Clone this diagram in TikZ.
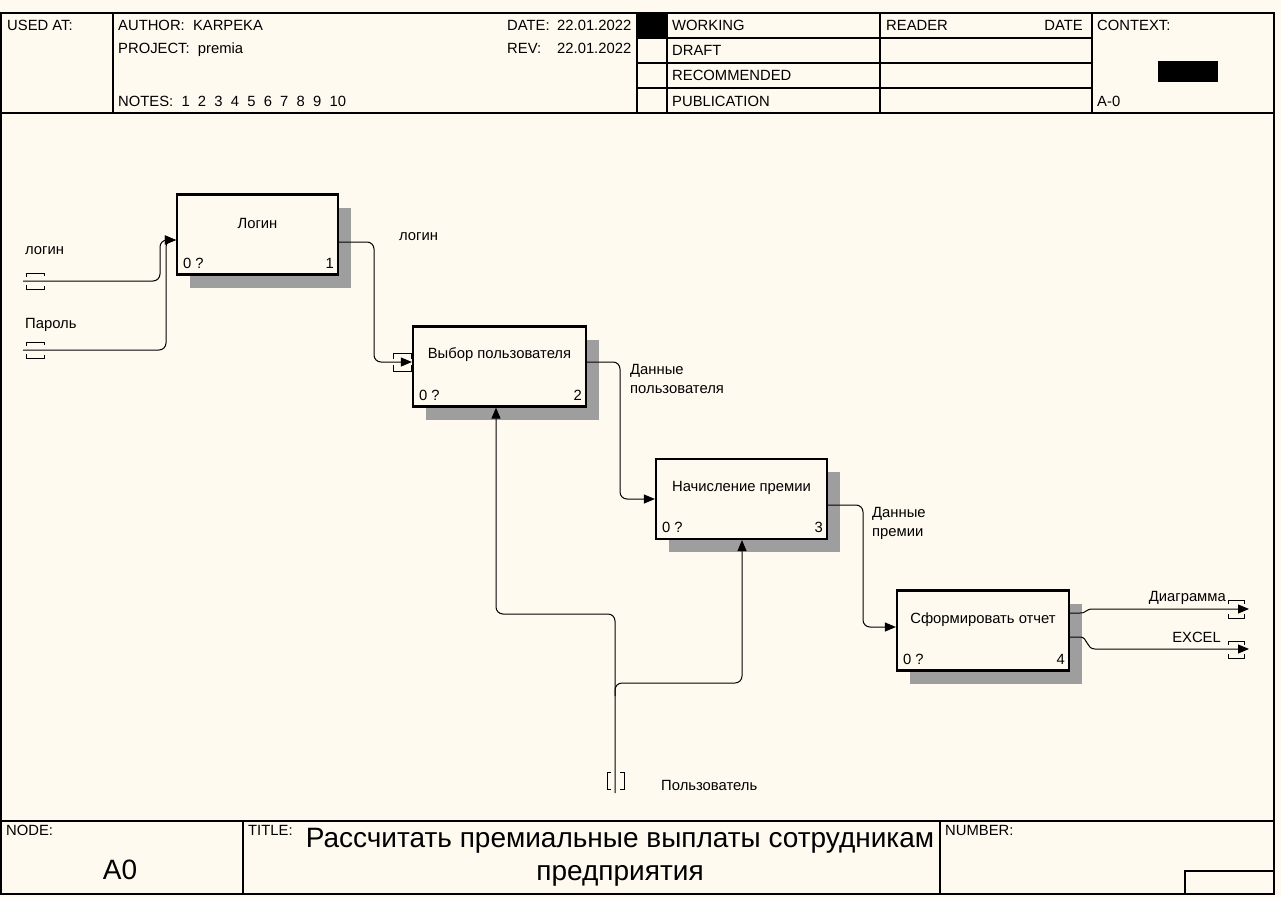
\documentclass[tikz,border=0pt]{standalone}
\usepackage{fontspec}
\setmainfont{Liberation Sans}
\usetikzlibrary{arrows.meta,shadows}
\definecolor{paper}{RGB}{255,250,240}

\begin{document}
\begin{tikzpicture}[x=1pt,y=-1pt,
  every node/.style={font=\fontsize{14.8}{19}\selectfont,inner sep=0pt},
  box/.style={draw,line width=2.2pt,fill=paper,minimum height=80pt,
    drop shadow={shadow xshift=13pt,shadow yshift=-13pt,fill=black!38,opacity=1}},
  flow/.style={line width=1pt,rounded corners=7pt,-{Triangle[length=11pt,width=9pt]}},
  tun/.style={line width=1pt},
  frame/.style={line width=1.4pt},
  hd/.style={anchor=base west}]
\useasboundingbox (0,0) rectangle (1281,897);
\fill[paper] (0,0) rectangle (1281,897);

% frame, header and footer
\draw[frame] (1,13) rectangle (1274,894);
\draw[frame] (1,113) -- (1274,113);
\draw[frame] (113,13) -- (113,113);
\draw[frame] (637,13) -- (637,113);
\draw[frame] (667,13) -- (667,113);
\draw[frame] (880,13) -- (880,113);
\draw[frame] (1092,13) -- (1092,113);
\draw[frame] (637,38) -- (1092,38);
\draw[frame] (637,63) -- (1092,63);
\draw[frame] (637,88) -- (1092,88);
\fill (637,13) rectangle (667,38);
\fill (1158,61) rectangle (1218,82);
\draw[frame] (1,821) -- (1274,821);
\draw[frame] (243,821) -- (243,894);
\draw[frame] (940,821) -- (940,894);
\draw[frame] (1185,894) -- (1185,871) -- (1274,871);

\node[hd] at (7,30) {USED AT:};
\node[hd] at (118,30) {AUTHOR:\ \ KARPEKA};
\node[hd] at (118,53) {PROJECT:\ \ premia};
\node[hd] at (118,106) {NOTES:\ \ 1\ \ 2\ \ 3\ \ 4\ \ 5\ \ 6\ \ 7\ \ 8\ \ 9\ \ 10};
\node[hd] at (507,30) {DATE:};
\node[hd] at (557,30) {22.01.2022};
\node[hd] at (507,53) {REV:};
\node[hd] at (557,53) {22.01.2022};
\node[hd] at (672,30) {WORKING};
\node[hd] at (672,55) {DRAFT};
\node[hd] at (672,80) {RECOMMENDED};
\node[hd] at (672,106) {PUBLICATION};
\node[hd] at (886,30) {READER};
\node[anchor=base east] at (1083,30) {DATE};
\node[hd] at (1097,30) {CONTEXT:};
\node[hd] at (1097,106) {A-0};

\node[hd] at (6,835) {NODE:};
\node[anchor=base,font=\fontsize{28}{33}\selectfont] at (120,879) {A0};
\node[hd] at (248,835) {TITLE:};
\node[anchor=base,font=\fontsize{28}{33}\selectfont] at (620,847)
  {Рассчитать премиальные выплаты сотрудникам};
\node[anchor=base,font=\fontsize{28}{33}\selectfont] at (620,880) {предприятия};
\node[hd] at (945,835) {NUMBER:};

% activity boxes
\node[box,minimum width=161pt] (b1) at (257.5,234.5) {};
\node[box,minimum width=173pt] (b2) at (499.5,366.5) {};
\node[box,minimum width=171pt] (b3) at (741.5,499) {};
\node[box,minimum width=172pt] (b4) at (983,630.5) {};

\node at ([yshift=11.5pt]b1.center) {Логин};
\node at ([yshift=11.5pt]b2.center) {Выбор пользователя};
\node at ([yshift=11.5pt]b3.center) {Начисление премии};
\node at ([yshift=11pt]b4.center) {Сформировать отчет};

\node[anchor=south west] at ([xshift=7pt,yshift=7pt]b1.south west) {0 ?};
\node[anchor=south east] at ([xshift=-5pt,yshift=7pt]b1.south east) {1};
\node[anchor=south west] at ([xshift=7pt,yshift=7pt]b2.south west) {0 ?};
\node[anchor=south east] at ([xshift=-5pt,yshift=7pt]b2.south east) {2};
\node[anchor=south west] at ([xshift=7pt,yshift=7pt]b3.south west) {0 ?};
\node[anchor=south east] at ([xshift=-5pt,yshift=7pt]b3.south east) {3};
\node[anchor=south west] at ([xshift=7pt,yshift=7pt]b4.south west) {0 ?};
\node[anchor=south east] at ([xshift=-5pt,yshift=7pt]b4.south east) {4};

% free ends
\coordinate (in1) at (23,281);
\coordinate (in2) at (23,350);
\coordinate (out1) at (1249,609);
\coordinate (out2) at (1249,649);
\coordinate (mech) at (615,793);
\coordinate (fork) at (615,696);

% arrows
\draw[flow] (in1) -- (160,281) -- (160,240) -- (b1.west |- 0,240);
\draw[flow] (in2) -- (166,350) -- (166,240) -- (b1.west |- 0,240);
\draw[flow] (b1.east |- 0,242) -- (374,242) -- (374,362) -- (b2.west |- 0,362);
\draw[flow] (b2.east |- 0,362) -- (620,362) -- (620,499) -- (b3.west);
\draw[flow] (b3.east |- 0,505) -- (863,505) -- (863,627) -- (b4.west |- 0,627);
\draw[flow,rounded corners=0pt] (b4.east |- 0,613) -- (1080,613)
  .. controls (1087,613) and (1085,609) .. (1093,609) -- (out1);
\draw[flow,rounded corners=0pt] (b4.east |- 0,637) -- (1080,637)
  .. controls (1088,637) and (1086,649) .. (1095,649) -- (out2);
\draw[flow] (mech) -- (615,614) -- (496,614) -- (b2.south -| 496,0);
\draw[flow] (fork) -- (615,683) -- (742,683) -- (b3.south -| 742,0);

% tunnels
\draw[tun] (26,277) -- (26,273) -- (44,273) -- (44,276);
\draw[tun] (26,285) -- (26,289) -- (44,289) -- (44,286);
\draw[tun] (26,346) -- (26,342) -- (44,342) -- (44,345);
\draw[tun] (26,354) -- (26,358) -- (44,358) -- (44,355);
\draw[tun] (393,359) -- (393,353) -- (411,353) -- (411,359);
\draw[tun] (393,365) -- (393,371) -- (411,371) -- (411,365);
\draw[tun] (1228,604) -- (1228,600) -- (1244,600) -- (1244,604);
\draw[tun] (1228,614) -- (1228,618) -- (1244,618) -- (1244,614);
\draw[tun] (1228,645) -- (1228,641) -- (1244,641) -- (1244,645);
\draw[tun] (1228,654) -- (1228,658) -- (1244,658) -- (1244,654);
\draw[tun] (611,772) -- (607,772) -- (607,789) -- (611,789);
\draw[tun] (620,772) -- (624,772) -- (624,789) -- (620,789);

% labels
\node[anchor=west] at (25,251) {логин};
\node[anchor=west] at (25,325) {Пароль};
\node[anchor=west] at (399,237) {логин};
\node[anchor=west,align=left] at (630,379) {Данные\\пользователя};
\node[anchor=west,align=left] at (872,523) {Данные\\премии};
\node[anchor=east] at (1226,598) {Диаграмма};
\node[anchor=east] at (1221,637) {EXCEL};
\node[anchor=west] at (661,785) {Пользователь};
\end{tikzpicture}
\end{document}
